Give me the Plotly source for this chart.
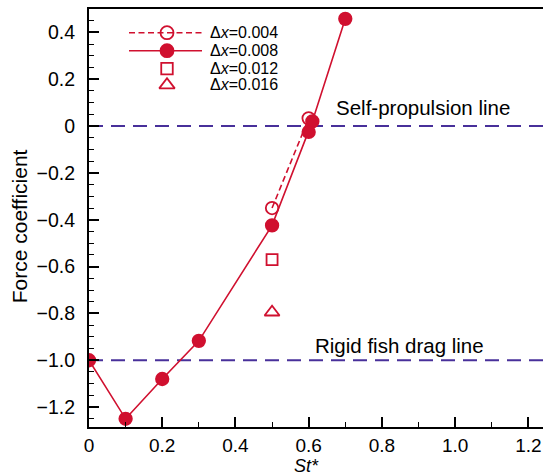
import plotly.graph_objects as go

# Force coefficient vs St* for several grid spacings
st_004 = [0.5, 0.6]
cf_004 = [-0.35, 0.033]

st_008 = [0.0, 0.1, 0.2, 0.3, 0.5, 0.6, 0.61, 0.7]
cf_008 = [-1.0, -1.25, -1.08, -0.917, -0.424, -0.025, 0.02, 0.458]

st_012 = [0.5]
cf_012 = [-0.57]

st_016 = [0.5]
cf_016 = [-0.795]

series_names = ["Δ<i>x</i>=0.004", "Δ<i>x</i>=0.008", "Δ<i>x</i>=0.012", "Δ<i>x</i>=0.016"]

ref_levels = [0.0, -1.0]
ref_labels = ["Self-propulsion line", "Rigid fish drag line"]

x_ticks = [0, 0.2, 0.4, 0.6, 0.8, 1.0, 1.2]
x_ticktext = ["0", "0.2", "0.4", "0.6", "0.8", "1.0", "1.2"]
y_ticks = [0.4, 0.2, 0, -0.2, -0.4, -0.6, -0.8, -1.0, -1.2]
y_ticktext = ["0.4", "0.2", "0", "−0.2", "−0.4", "−0.6", "−0.8", "−1.0", "−1.2"]

RED = "#d0102f"
PURPLE = "#48309a"
FONT = "Liberation Sans, Arial, Helvetica, sans-serif"

# series styles: (mode, line dash or None, marker symbol, marker size)
styles = [
    ("lines+markers", "6px,3.5px", "circle-open", 12.5),
    ("lines+markers", "solid", "circle", 12.5),
    ("markers", None, "square-open", 11),
    ("markers", None, "triangle-up-open", 13),
]
series_data = [(st_004, cf_004), (st_008, cf_008), (st_012, cf_012), (st_016, cf_016)]

PLOT_L, PLOT_T, PLOT_B, W, H = 89, 9, 48, 543, 475
pw, ph = W - PLOT_L, H - PLOT_T - PLOT_B

fig = go.Figure()

# reference lines
for lvl in ref_levels:
    fig.add_shape(type="line", xref="x domain", yref="y", x0=0, x1=1, y0=lvl, y1=lvl,
                  line=dict(color=PURPLE, width=2, dash="14px,8px"), layer="below")

label_pos = [(0.912, 18.5), (0.847, 15)]
for lvl, txt, (lx, ys) in zip(ref_levels, ref_labels, label_pos):
    fig.add_annotation(x=lx, y=lvl, xref="x", yref="y", text=txt, showarrow=False,
                       yshift=ys, font=dict(size=20.5, color="black", family=FONT))

# data series
for (xs, ys), name, (mode, dash, sym, size) in zip(series_data, series_names, styles):
    kw = dict(x=xs, y=ys, mode=mode, name=name, showlegend=False,
              marker=dict(symbol=sym, size=size, color=RED, line=dict(width=1.8, color=RED)))
    if dash:
        kw["line"] = dict(color=RED, width=1.6, dash=dash)
    fig.add_trace(go.Scatter(**kw))

# legend keys drawn in a small inset frame measured in pixels
key_rows = [32.7, 50.7, 68.7, 85.0]
key_x0, key_x1, key_mid, key_text = 129, 202, 167, 208
for row, name, (mode, dash, sym, size) in zip(key_rows, series_names, styles):
    if dash:
        fig.add_trace(go.Scatter(x=[key_x0, key_x1], y=[row, row], mode="lines",
                                 line=dict(color=RED, width=1.6, dash=dash),
                                 xaxis="x2", yaxis="y2", showlegend=False, hoverinfo="skip"))
    fig.add_trace(go.Scatter(x=[key_mid], y=[row], mode="markers",
                             marker=dict(symbol=sym, size=size + 0.5, color=RED,
                                         line=dict(width=1.8, color=RED)),
                             xaxis="x2", yaxis="y2", showlegend=False, hoverinfo="skip"))
    fig.add_annotation(x=key_text, y=row, xref="x2", yref="y2", text=name, showarrow=False,
                       xanchor="left", yanchor="middle",
                       font=dict(size=16, color="black", family=FONT))

# axis titles
fig.add_annotation(x=0.593, y=0, xref="x", yref="paper", text="<i>St*</i>", showarrow=False,
                   xanchor="center", yanchor="top", yshift=-27,
                   font=dict(size=18, color="black", family=FONT))
fig.add_annotation(x=(19.5 - PLOT_L) / pw, y=-0.43, xref="paper", yref="y",
                   text="Force coefficient", showarrow=False, textangle=-90,
                   xanchor="center", yanchor="middle",
                   font=dict(size=21, color="black", family=FONT))

fig.update_layout(
    width=W, height=H,
    margin=dict(l=PLOT_L, r=0, t=PLOT_T, b=PLOT_B),
    paper_bgcolor="white", plot_bgcolor="rgba(0,0,0,0)",
    font=dict(family=FONT, size=19, color="black"),
    showlegend=False,
    xaxis=dict(
        range=[0, 1.24], showgrid=False, zeroline=False,
        showline=True, linecolor="black", linewidth=2, mirror=True,
        ticks="inside", ticklen=10, tickwidth=1.5, tickcolor="black",
        tickvals=x_ticks, ticktext=x_ticktext,
        minor=dict(ticks="inside", ticklen=5, tickwidth=1.2, tickcolor="black", dtick=0.1),
        tickfont=dict(size=19),
    ),
    yaxis=dict(
        range=[-1.285, 0.5], showgrid=False, zeroline=False,
        showline=True, linecolor="black", linewidth=2,
        ticks="inside", ticklen=10, tickwidth=1.5, tickcolor="black",
        tickvals=y_ticks, ticktext=y_ticktext, ticklabelstandoff=8,
        minor=dict(ticks="inside", ticklen=5, tickwidth=1.2, tickcolor="black", dtick=0.05),
        tickfont=dict(size=19.5),
    ),
    xaxis2=dict(domain=[(120 - PLOT_L) / pw, (220 - PLOT_L) / pw], range=[120, 220],
                visible=False, anchor="y2"),
    yaxis2=dict(domain=[(H - PLOT_B - 100) / ph, (H - PLOT_B - 20) / ph], range=[100, 20],
                visible=False, anchor="x2"),
)

fig.write_html("out.html")
